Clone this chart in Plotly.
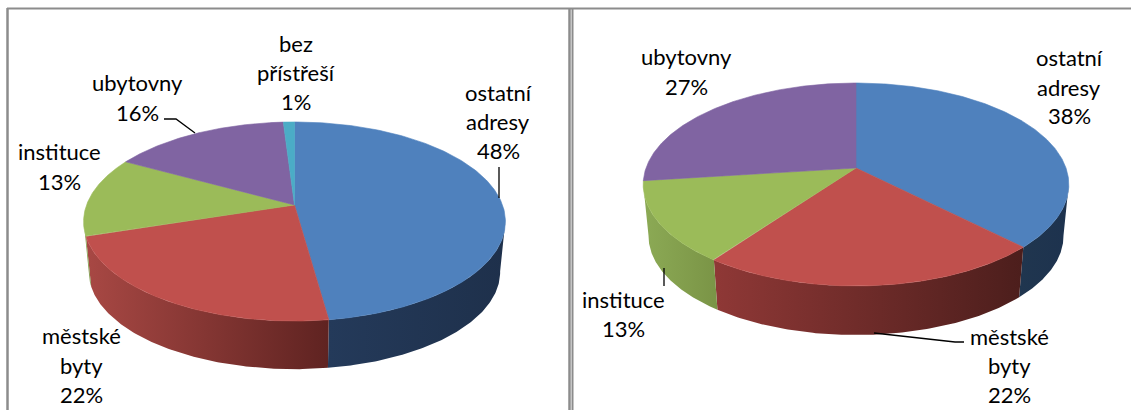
import numpy as np
import plotly.graph_objects as go

# ---- data ----
left_categories = ["ostatní adresy", "městské byty", "instituce", "ubytovny", "bez přístřeší"]
left_values = [47.8, 22.2, 13, 16, 1]
right_categories = ["ostatní adresy", "městské byty", "instituce", "ubytovny"]
right_values = [37.55, 22.45, 13, 27]

# ---- style ----
TOP = {"ostatní adresy": "#4F81BD", "městské byty": "#C0504D", "instituce": "#9BBB59",
       "ubytovny": "#8064A2", "bez přístřeší": "#4BACC6"}
SIDE_LEFT = {"ostatní adresy": ("#243A5A", "#1E304B"), "městské byty": ("#A84844", "#5F2321"),
             "instituce": ("#8CAA55", "#7A9446"), "ubytovny": ("#6A5288", "#55416E"),
             "bez přístřeší": ("#3A8CA2", "#2E7488")}
SIDE_RIGHT = {"ostatní adresy": ("#20364F", "#1D324E"), "městské byty": ("#8F3836", "#4C1E1C"),
              "instituce": ("#8CAA55", "#7A9446"), "ubytovny": ("#6A5288", "#55416E")}

LEFT_GEOM = dict(cx=294.5, y0=205, a=208, b=96.8, k=0.166, depth=51, scale=0.975)
RIGHT_GEOM = dict(cx=856, y0=168, a=210, b=98.8, k=0.1625, depth=52, scale=0.975)

FONT = dict(family="Lato, Carlito, Calibri, sans-serif", size=22, color="#000000")


def rim(g, theta, lower=False):
    """Perspective projection of a tilted disc's rim; theta clockwise from the top."""
    u, v = np.sin(theta), -np.cos(theta)
    d = 1 - g["k"] * v
    s = g["scale"] if lower else 1.0
    y0 = g["y0"] + (g["depth"] if lower else 0)
    return g["cx"] + s * g["a"] * u / d, y0 + s * g["b"] * v / d


def add_pie(fig, cats, vals, g, side):
    total = sum(vals)
    edges = np.cumsum([0] + list(vals)) / total * 2 * np.pi
    # side walls first, the top face then hides whatever lies behind it
    lo, hi = np.radians(99), np.radians(261)
    for c, t0, t1 in zip(cats, edges[:-1], edges[1:]):
        a0, a1 = max(t0, lo), min(t1, hi)
        if a1 <= a0:
            continue
        th = np.linspace(a0, a1, 120)
        xt, yt = rim(g, th)
        xb, yb = rim(g, th, lower=True)
        xs = np.r_[xt, xb[::-1]]
        ys = np.r_[yt, yb[::-1]]
        colors = side[c]
        fig.add_trace(go.Scatter(
            x=xs, y=ys, mode="lines", line=dict(width=0), fill="toself",
            fillgradient=dict(type="horizontal", colorscale=[[0, colors[0]], [1, colors[1]]],
                              start=float(xs.min()), stop=float(xs.max())),
            hoverinfo="skip", showlegend=False))
    for c, t0, t1 in zip(cats, edges[:-1], edges[1:]):
        th = np.linspace(t0, t1, 200)
        x, y = rim(g, th)
        fig.add_trace(go.Scatter(
            x=np.r_[g["cx"], x, g["cx"]], y=np.r_[g["y0"], y, g["y0"]],
            mode="lines", line=dict(width=0.6, color=TOP[c]), fill="toself",
            fillcolor=TOP[c], name=c, hoverinfo="name", showlegend=False))


fig = go.Figure()
add_pie(fig, left_categories, left_values, LEFT_GEOM, SIDE_LEFT)
add_pie(fig, right_categories, right_values, RIGHT_GEOM, SIDE_RIGHT)


def label(lines, x, ys):
    for text, y in zip(lines, ys):
        fig.add_annotation(x=x, y=y - 2.5, text=text, showarrow=False, xanchor="center",
                           yanchor="middle", font=FONT, xref="x", yref="y")


def pct(vals, cats, c):
    return f"{round(vals[cats.index(c)])}%"


L, LC = left_values, left_categories
R, RC = right_values, right_categories
label(["bez", "přístřeší", pct(L, LC, "bez přístřeší")], 296, [46, 75, 104])
label(["ubytovny", pct(L, LC, "ubytovny")], 137, [85, 115])
label(["ostatní", "adresy", pct(L, LC, "ostatní adresy")], 498, [95, 124, 153])
label(["instituce", pct(L, LC, "instituce")], 59, [154, 184])
label(["městské", "byty", pct(L, LC, "městské byty")], 81, [338, 368, 397])
label(["ubytovny", pct(R, RC, "ubytovny")], 686, [59, 89])
label(["ostatní", "adresy", pct(R, RC, "ostatní adresy")], 1069, [60, 90, 118])
label(["instituce", pct(R, RC, "instituce")], 623, [302, 331])
label(["městské", "byty", pct(R, RC, "městské byty")], 1009, [339, 368, 397])

shapes = []
# leader lines
for path in ["M164,119 L176,119 L195,133", "M499,167 L499,198", "M664,268 L664,286",
             "M874,333 L955,342 L964,342"]:
    shapes.append(dict(type="path", path=path, line=dict(color="#000000", width=1.3),
                       xref="x", yref="y", layer="above"))
# panel frames
BORDER = "#8C8C8C"
for x0, y0, x1, y1, w in [(7, 8.5, 1131, 8.5, 2), (7.5, 8, 7.5, 410, 2.5),
                          (569.5, 8, 569.5, 410, 2.5), (572.5, 8, 572.5, 410, 2)]:
    shapes.append(dict(type="line", x0=x0, y0=y0, x1=x1, y1=y1, xref="x", yref="y",
                       line=dict(color=BORDER, width=w), layer="above"))

fig.update_layout(
    width=1131, height=410, margin=dict(l=0, r=0, t=0, b=0), autosize=False,
    paper_bgcolor="white", plot_bgcolor="white", shapes=shapes,
    xaxis=dict(range=[0, 1131], visible=False, fixedrange=True),
    yaxis=dict(range=[410, 0], visible=False, fixedrange=True),
)
fig.write_html("out.html", config=dict(displayModeBar=False),
               post_script="document.body.style.margin='0';document.documentElement.style.overflow='hidden';")
